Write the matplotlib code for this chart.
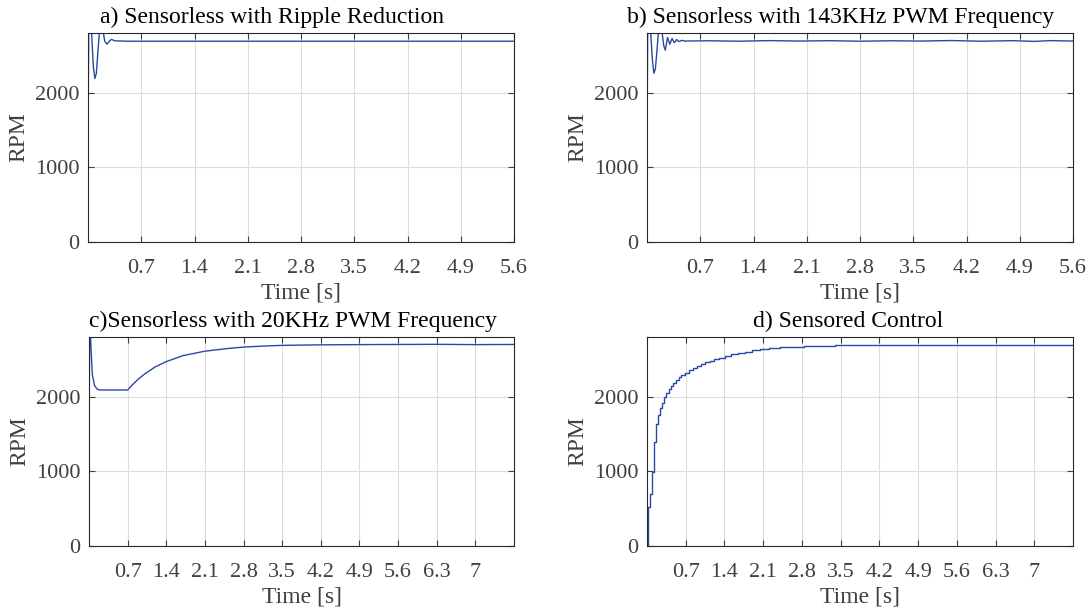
import matplotlib
matplotlib.use("Agg")
import matplotlib.pyplot as plt

plt.rcParams['font.family'] = ['Liberation Serif', 'DejaVu Serif']

# ---------------- data ----------------
titles = ["a) Sensorless with Ripple Reduction",
          "b) Sensorless with 143KHz PWM Frequency",
          "c)Sensorless with 20KHz PWM Frequency",
          "d) Sensored Control"]

# a) sensorless with ripple reduction
t_a = [0.0, 0.004, 0.01, 0.04, 0.07, 0.09, 0.11, 0.13, 0.16, 0.19, 0.22, 0.25,
       0.28, 0.31, 0.35, 0.5, 1.0, 2.0, 3.0, 4.0, 5.0, 5.6]
rpm_a = [0, 2000, 3100, 2950, 2350, 2190, 2260, 2550, 2950, 2880, 2690, 2650,
         2690, 2715, 2695, 2690, 2690, 2690, 2690, 2690, 2690, 2690]

# b) sensorless with 143 kHz PWM
t_b = [0.0, 0.004, 0.01, 0.04, 0.07, 0.09, 0.11, 0.13, 0.16, 0.19, 0.22, 0.24,
       0.27, 0.30, 0.33, 0.36, 0.39, 0.42, 0.46, 0.5, 0.8, 1.2, 1.6, 2.0, 2.4,
       2.8, 3.2, 3.6, 4.0, 4.4, 4.8, 5.1, 5.3, 5.6]
rpm_b = [0, 2000, 3100, 2950, 2450, 2260, 2320, 2550, 2950, 2880, 2630, 2570,
         2740, 2650, 2725, 2670, 2712, 2685, 2702, 2692, 2696, 2690, 2698, 2692,
         2697, 2690, 2696, 2692, 2699, 2690, 2697, 2688, 2698, 2692]

# c) sensorless with 20 kHz PWM
t_c = [0.0, 0.005, 0.012, 0.03, 0.06, 0.1, 0.15, 0.2, 0.4, 0.7, 0.8, 0.9, 1.0,
       1.2, 1.4, 1.7, 2.1, 2.5, 2.8, 3.2, 3.5, 4.2, 4.9, 5.6, 6.3, 7.0, 7.7]
rpm_c = [0, 2000, 3100, 2750, 2300, 2150, 2100, 2090, 2090, 2090, 2170, 2240,
         2300, 2400, 2470, 2550, 2610, 2645, 2665, 2680, 2688, 2695, 2698, 2700,
         2702, 2698, 2700]

# d) sensored control (stepwise speed estimate)
t_d = [0.0, 0.018, 0.054, 0.09, 0.127, 0.163, 0.2, 0.236, 0.27, 0.31, 0.35,
       0.39, 0.43, 0.47, 0.52, 0.57, 0.62, 0.69, 0.76, 0.83, 0.9, 0.98, 1.05,
       1.13, 1.21, 1.3, 1.41, 1.52, 1.64, 1.77, 1.9, 2.05, 2.2, 2.4, 2.6, 2.83,
       3.1, 3.4, 3.7, 4.0, 4.3, 4.6, 4.9, 5.2, 5.5, 5.8, 6.1, 6.4, 6.7, 7.0,
       7.3, 7.7]
rpm_d = [0, 520, 690, 990, 1390, 1630, 1760, 1850, 1920, 1990, 2050, 2100,
         2145, 2185, 2225, 2260, 2290, 2320, 2355, 2385, 2410, 2440, 2465,
         2485, 2505, 2525, 2550, 2570, 2590, 2605, 2620, 2635, 2648, 2660,
         2670, 2680, 2686, 2690, 2694, 2692, 2696, 2693, 2697, 2694, 2698,
         2695, 2698, 2694, 2699, 2695, 2697, 2696]

xticks_top = [0.7, 1.4, 2.1, 2.8, 3.5, 4.2, 4.9, 5.6]
xticks_bot = [0.7, 1.4, 2.1, 2.8, 3.5, 4.2, 4.9, 5.6, 6.3, 7.0]
xtick_labels_bot = ["0.7", "1.4", "2.1", "2.8", "3.5", "4.2", "4.9", "5.6", "6.3", "7"]
yticks = [0, 1000, 2000]

# ---------------- figure ----------------
W, H = 1090, 613
fig = plt.figure(figsize=(W / 100, H / 100), dpi=100)

def box(l, r, t, b):
    return [l / W, 1 - b / H, (r - l) / W, (b - t) / H]

positions = [box(88, 514, 33, 242), box(647, 1073, 33, 242),
             box(89, 514, 337, 546), box(647, 1073, 337, 546)]
title_x = [0.432, 0.455, 0.48, 0.473]
series = [(t_a, rpm_a, 'linear'), (t_b, rpm_b, 'linear'),
          (t_c, rpm_c, 'linear'), (t_d, rpm_d, 'steps')]

line_color = '#2a48a8'
tick_color = '#404040'
fs_tick = 16
fs_label = 17
fs_title = 17

for i, (pos, (t, r, style), title) in enumerate(zip(positions, series, titles)):
    ax = fig.add_axes(pos)
    if style == 'steps':
        ax.plot(t, r, color=line_color, lw=1.0, drawstyle='steps-post')
    else:
        ax.plot(t, r, color=line_color, lw=1.0)
    if i < 2:
        ax.set_xlim(0, 5.6)
        ax.set_xticks(xticks_top)
        ax.set_xticklabels([f"{v:.1f}" for v in xticks_top])
    else:
        ax.set_xlim(0, 7.7)
        ax.set_xticks(xticks_bot)
        ax.set_xticklabels(xtick_labels_bot)
    ax.set_ylim(0, 2800)
    ax.set_yticks(yticks)
    ax.set_yticklabels([str(v) for v in yticks])
    ax.grid(True, color='#dcdcdc', lw=0.8)
    ax.set_axisbelow(True)
    ax.tick_params(direction='in', top=True, right=True, length=4,
                   colors=tick_color, labelsize=fs_tick, width=0.8)
    ax.tick_params(axis='x', pad=12.5)
    ax.tick_params(axis='y', pad=6)
    for s in ax.spines.values():
        s.set_color('#262626')
        s.set_linewidth(0.8)
    ax.set_xlabel("Time [s]", fontsize=fs_label, color=tick_color, labelpad=3)
    ax.set_ylabel("RPM", fontsize=fs_label, color=tick_color, labelpad=4)
    ax.set_title(title, fontsize=fs_title, color='black', pad=7, x=title_x[i])

fig.savefig("out.png", dpi=100)
